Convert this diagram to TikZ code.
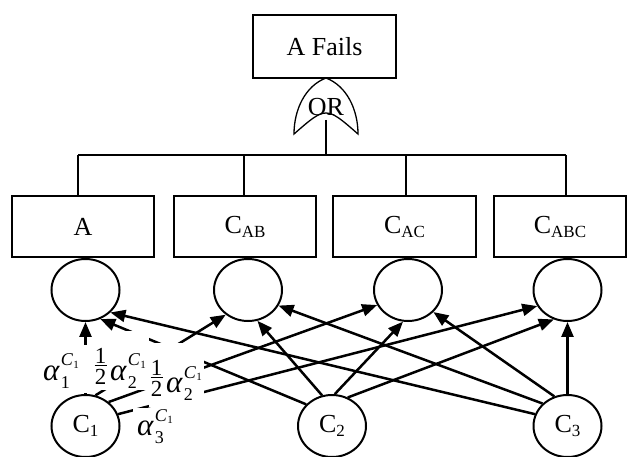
\documentclass[tikz,border=0pt]{standalone}
\usepackage{fontspec}
\setmainfont{Liberation Serif}
\usetikzlibrary{shapes.geometric,arrows.meta}
\newcommand{\mysub}[1]{\raisebox{-4pt}{\fontsize{17}{17}\selectfont #1}}
\newcommand{\alp}[1]{{\fontsize{31}{31}\selectfont\itshape α}\kern1.5pt\rlap{\raisebox{-8pt}{\fontsize{18}{18}\selectfont #1}}\raisebox{14pt}{\fontsize{18}{18}\selectfont\itshape C\kern0.3pt\raisebox{-2.5pt}{\fontsize{11}{11}\selectfont\upshape 1}}}
\newcommand{\half}{\makebox[13pt][c]{\fontsize{23}{23}\selectfont\rlap{\makebox[13pt]{\raisebox{16.5pt}{1}}}\rlap{\makebox[13pt]{\rule[14pt]{12pt}{1.2pt}}}\makebox[13pt]{\raisebox{-4.5pt}{2}}}}
\tikzset{
 boxnode/.style={draw, line width=1.5pt, minimum height=61pt, inner sep=0pt, font=\fontsize{26}{30}\selectfont},
 evt/.style={draw, ellipse, line width=2pt, minimum width=68pt, minimum height=62pt, inner sep=0pt, font=\fontsize{26}{30}\selectfont},
 link/.style={line width=1.5pt},
 gate/.style={line width=1.3pt},
 arr/.style={line width=2.5pt, -{Triangle[length=15pt,width=12pt]}},
 lab/.style={fill=white, inner sep=0pt, anchor=base west},
}
\begin{document}
\begin{tikzpicture}[x=1pt,y=-1pt]
\useasboundingbox (0,0) rectangle (627,457);
% top event
\node[boxnode, minimum width=143pt, minimum height=63pt] (fail) at (324.5,46.5) {A Fails};
% OR gate
\coordinate (gtop) at (326,78);
\draw[gate] (gtop) .. controls (305,86) and (294,110) .. (294,134)
  .. controls (326,106) .. (358,134)
  .. controls (358,110) and (347,86) .. (gtop);
\node[inner sep=0pt, font=\fontsize{26}{30}\selectfont] (or) at (326,107) {OR};
\coordinate (gbot) at (326,120);
\coordinate (bus) at (326,155);
\draw[link] (gbot) -- (bus);
% bus
\coordinate (busA) at (78,155);
\coordinate (busB) at (244,155);
\coordinate (busC) at (406,155);
\coordinate (busD) at (566,155);
\draw[link] (busA) -- (busD);
% boxes
\node[boxnode, minimum width=142pt] (a) at (83,226.5) {A};
\node[boxnode, minimum width=142pt] (cab) at (245,226.5) {C\mysub{AB}};
\node[boxnode, minimum width=143pt] (cac) at (404.5,226.5) {C\mysub{AC}};
\node[boxnode, minimum width=132pt] (cabc) at (560,226.5) {C\mysub{ABC}};
\draw[link] (busA) -- (busA |- a.north);
\draw[link] (busB) -- (busB |- cab.north);
\draw[link] (busC) -- (busC |- cac.north);
\draw[link] (busD) -- (busD |- cabc.north);
% circles
\node[evt] (t1) at (85.5,290) {};
\node[evt] (t2) at (248,290) {};
\node[evt] (t3) at (408,290) {};
\node[evt] (t4) at (567.5,290) {};
\node[evt] (c1) at (85.5,426) {C\mysub{1}};
\node[evt] (c2) at (332,426) {C\mysub{2}};
\node[evt] (c3) at (567.5,426) {C\mysub{3}};
% arrows from C1
\draw[arr] (c1.90) -- (t1.270);
\draw[arr] (c1.72) -- (t2.228);
\draw[arr] (c1.46) -- (t3.206);
\draw[arr] (c1.20) -- (t4.208);
% arrows from C2
\draw[arr] (c2.140) -- (t1.297);
\draw[arr] (c2.108) -- (t2.287);
\draw[arr] (c2.85) -- (t3.261);
\draw[arr] (c2.61) -- (t4.245);
% arrows from C3
\draw[arr] (c3.160) -- (t1.318);
\draw[arr] (c3.138) -- (t2.333);
\draw[arr] (c3.114) -- (t3.319);
\draw[arr] (c3.90) -- (t4.270);
% labels
\node[lab, text height=35pt, text depth=13pt] (l1) at (41,380) {\makebox[48pt][l]{\kern2pt\alp{1}}};
\node[lab, text height=49pt, text depth=10pt] (l2) at (92,380) {\makebox[57pt][l]{\kern2pt\half\kern3pt\alp{2}}};
\node[lab, text height=49pt, text depth=15pt] (l3) at (149,392) {\makebox[55pt][l]{\kern1pt\half\kern3pt\alp{2}}};
\node[lab, text height=27pt, text depth=11pt] (l4) at (133,435) {\makebox[45pt][l]{\kern4pt\alp{3}}};
\end{tikzpicture}
\end{document}
